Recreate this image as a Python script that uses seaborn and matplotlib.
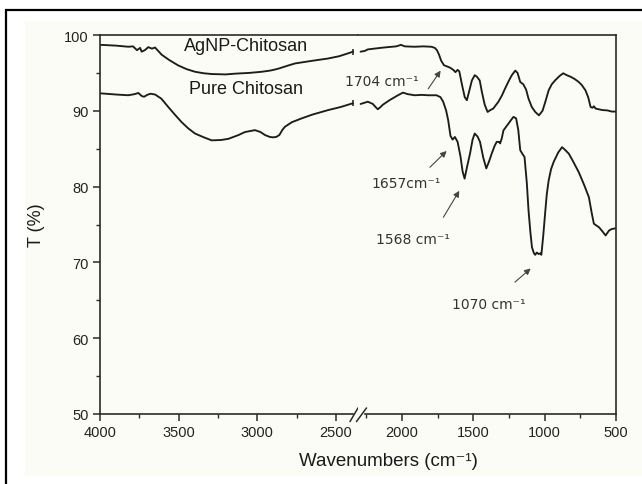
import numpy as np
import pandas as pd
import matplotlib
matplotlib.use("Agg")
import matplotlib.pyplot as plt
import seaborn as sns
from matplotlib.patches import Rectangle
from matplotlib.ticker import MultipleLocator

# FTIR spectra (wavenumber cm-1, transmittance %)
# left part of the broken axis (4000 -> ~2380)
ag_wn_hi = [3995, 3900, 3820, 3790, 3765, 3745, 3735, 3715, 3693, 3670, 3650, 3608, 3560,
            3504, 3450, 3396, 3340, 3290, 3200, 3142, 3050, 2972, 2920, 2887, 2860, 2800,
            2760, 2650, 2550, 2480, 2420, 2392]
ag_t_hi = [98.7, 98.6, 98.45, 98.5, 98.0, 98.3, 97.8, 98.0, 98.4, 98.2, 98.35, 97.4, 96.7,
           96.0, 95.5, 95.15, 94.95, 94.85, 94.8, 94.9, 95.0, 95.15, 95.3, 95.45, 95.6, 96.0,
           96.25, 96.6, 96.9, 97.2, 97.6, 97.8]

pc_wn_hi = [3995, 3900, 3820, 3780, 3756, 3735, 3720, 3700, 3680, 3650, 3610, 3566, 3520,
            3481, 3440, 3396, 3340, 3290, 3230, 3184, 3120, 3078, 3040, 3015, 2980, 2951,
            2920, 2900, 2880, 2860, 2840, 2824, 2780, 2718, 2650, 2549, 2470, 2392]
pc_t_hi = [92.3, 92.15, 92.05, 92.2, 92.35, 91.95, 91.85, 92.1, 92.25, 92.15, 91.6, 90.5, 89.4,
           88.5, 87.7, 87.0, 86.5, 86.1, 86.15, 86.3, 86.8, 87.2, 87.35, 87.45, 87.2, 86.8,
           86.55, 86.5, 86.55, 86.8, 87.5, 87.9, 88.5, 89.0, 89.5, 90.1, 90.5, 91.0]

# right part of the broken axis (~2290 -> 500)
ag_wn_lo = [2290, 2260, 2239, 2150, 2099, 2040, 2007, 1980, 1911, 1850, 1794, 1770, 1755,
            1740, 1725, 1705, 1690, 1664, 1640, 1625, 1610, 1598, 1580, 1560, 1545, 1530,
            1510, 1490, 1475, 1455, 1440, 1420, 1400, 1380, 1360, 1324, 1300, 1277, 1250,
            1230, 1206, 1190, 1171, 1150, 1130, 1113, 1090, 1066, 1040, 1015, 995, 972, 950,
            925, 895, 870, 845, 819, 790, 761, 740, 714, 695, 678, 665, 655, 643, 620, 596,
            560, 530, 502]
ag_t_lo = [97.8, 97.9, 98.1, 98.3, 98.4, 98.5, 98.7, 98.5, 98.45, 98.5, 98.45, 98.3, 98.0,
           97.4, 96.6, 96.0, 95.9, 95.7, 95.4, 95.1, 95.4, 95.2, 93.5, 91.8, 91.4, 92.5,
           94.0, 94.7, 94.5, 94.0, 92.5, 90.8, 89.85, 90.1, 90.3, 91.2, 92.0, 92.95, 94.0,
           94.7, 95.3, 95.0, 93.8, 93.5, 92.8, 91.6, 90.5, 89.85, 89.4, 90.0, 91.2, 92.7, 93.5,
           94.05, 94.6, 94.95, 94.7, 94.5, 94.2, 93.8, 93.4, 92.7, 91.8, 90.5, 90.4, 90.6,
           90.3, 90.2, 90.1, 90.05, 89.9, 89.9]

pc_wn_lo = [2290, 2239, 2204, 2185, 2169, 2150, 2134, 2087, 2028, 1993, 1960, 1911, 1860,
            1817, 1758, 1730, 1711, 1690, 1676, 1660, 1645, 1629, 1610, 1590, 1575, 1561,
            1545, 1523, 1505, 1490, 1470, 1453, 1430, 1409, 1390, 1371, 1350, 1336, 1320,
            1312, 1300, 1289, 1270, 1254, 1235, 1218, 1200, 1185, 1171, 1155, 1141, 1125,
            1113, 1100, 1089, 1075, 1066, 1055, 1042, 1030, 1023, 1010, 995, 985, 972, 955,
            937, 905, 878, 860, 831, 800, 761, 725, 690, 670, 655, 640, 620, 595, 573, 560,
            549, 530, 502]
pc_t_lo = [90.9, 91.2, 90.9, 90.5, 90.2, 90.5, 90.8, 91.4, 92.05, 92.4, 92.2, 92.05, 92.1,
           92.05, 92.05, 91.8, 91.2, 90.0, 88.75, 86.7, 86.2, 86.55, 85.9, 84.0, 82.0, 81.05,
           82.5, 84.35, 86.2, 87.0, 86.6, 85.9, 83.8, 82.4, 83.3, 84.35, 85.4, 85.9, 85.9,
           85.7, 86.4, 87.4, 87.9, 88.3, 88.8, 89.2, 89.0, 87.5, 84.8, 84.3, 83.9, 80.5,
           76.85, 74.0, 72.0, 71.2, 71.0, 71.3, 71.1, 71.2, 71.0, 73.5, 76.85, 79.0, 80.8, 82.3,
           83.25, 84.5, 85.2, 84.9, 84.35, 83.3, 81.9, 80.3, 78.6, 76.5, 75.1, 74.9, 74.65,
           74.1, 73.55, 73.9, 74.2, 74.4, 74.5]

series_names = ["AgNP-Chitosan", "Pure Chitosan"]

# peak annotations: text, text position, arrow tail, arrow head (wn, T)
peak_labels = ["1704 cm\u207b\u00b9", "1657cm\u207b\u00b9", "1568 cm\u207b\u00b9", "1070 cm\u207b\u00b9"]
peak_text_xy = [(2140, 93.9), (1972, 80.5), (1923, 73.1), (1394, 64.5)]
peak_tail_xy = [(1816, 92.9), (1804, 82.55), (1710, 75.95), (1208, 67.4)]
peak_head_xy = [(1729, 95.3), (1687, 84.7), (1598, 79.45), (1098, 69.2)]

sns.set_style("ticks")
plt.rcParams["font.family"] = ["Liberation Sans", "DejaVu Sans"]

W, H = 642, 485
fig = plt.figure(figsize=(W / 100, H / 100), dpi=100, facecolor="white")
bg = "#fcfcf7"
fig.add_artist(Rectangle((25 / W, 1 - 476 / H), 1, (476 - 22) / H,
                         transform=fig.transFigure, color=bg, zorder=-5))
fig.add_artist(Rectangle((6 / W, -0.1), 1.2, 1.1 - 11 / H, transform=fig.transFigure,
                         fill=False, edgecolor="black", lw=1.6, zorder=-4))

bottom = 1 - 415 / H
height = (415 - 36) / H
ax1 = fig.add_axes([100 / W, bottom, 258 / W, height])
ax2 = fig.add_axes([358 / W, bottom, 258 / W, height])

line_kw = dict(color="#1c1c1c", lw=1.35, estimator=None, sort=False, legend=False)
hi = pd.DataFrame({"wn": ag_wn_hi + pc_wn_hi, "T": ag_t_hi + pc_t_hi,
                   "s": [series_names[0]] * len(ag_wn_hi) + [series_names[1]] * len(pc_wn_hi)})
lo = pd.DataFrame({"wn": ag_wn_lo + pc_wn_lo, "T": ag_t_lo + pc_t_lo,
                   "s": [series_names[0]] * len(ag_wn_lo) + [series_names[1]] * len(pc_wn_lo)})
for name in series_names:
    sns.lineplot(data=hi[hi.s == name], x="wn", y="T", ax=ax1, **line_kw)
    sns.lineplot(data=lo[lo.s == name], x="wn", y="T", ax=ax2, **line_kw)

# little end caps where the curves stop at the break
ax1.plot([ag_wn_hi[-1], pc_wn_hi[-1]], [ag_t_hi[-1], pc_t_hi[-1]], ls="none",
         marker="|", ms=5, mew=1.1, color="#1c1c1c")

spine_c = "#2a2a2a"
for ax in (ax1, ax2):
    ax.set_facecolor(bg)
    ax.set_ylim(50, 100)
    ax.set_xlabel("")
    ax.set_ylabel("")
    for s in ax.spines.values():
        s.set_visible(True)
        s.set_color(spine_c)
        s.set_linewidth(1.2)
    ax.tick_params(axis="both", which="major", direction="out", length=5, width=1.1,
                   color=spine_c, labelsize=10.5, labelcolor="#222222", pad=3)
    ax.tick_params(axis="both", which="minor", direction="out", length=3, width=1.0,
                   color=spine_c)
    ax.xaxis.set_major_locator(MultipleLocator(500))
    ax.xaxis.set_minor_locator(MultipleLocator(250))

ax1.set_xlim(4000, 2360)
ax2.set_xlim(2308, 500)
ax1.spines["right"].set_visible(False)
ax2.spines["left"].set_visible(False)
ax1.spines["bottom"].set_bounds(4000, 2392)
ax2.spines["bottom"].set_bounds(2258, 500)
ax1.yaxis.set_major_locator(MultipleLocator(10))
ax1.yaxis.set_minor_locator(MultipleLocator(5))
ax2.tick_params(axis="y", which="both", left=False, labelleft=False)

# break marks on the x axis
bk = dict(color=spine_c, lw=1.1, clip_on=False)
ax1.plot([0.969, 1.0], [-0.020, 0.016], transform=ax1.transAxes, **bk)
ax2.plot([-0.006, 0.033], [-0.020, 0.016], transform=ax2.transAxes, **bk)

# series labels
ax1.text(3072, 98.6, series_names[0], ha="center", va="center", fontsize=13, color="#1a1a1a")
ax1.text(3072, 92.9, series_names[1], ha="center", va="center", fontsize=13, color="#1a1a1a")

for lab, txy, tail, head in zip(peak_labels, peak_text_xy, peak_tail_xy, peak_head_xy):
    ax2.text(txy[0], txy[1], lab, ha="center", va="center", fontsize=10,
             color="#333333", family=["DejaVu Sans"])
    ax2.annotate("", xy=head, xytext=tail,
                 arrowprops=dict(arrowstyle="-|>", color="#444444", lw=0.8,
                                 mutation_scale=9, shrinkA=0, shrinkB=0))

ax1.set_ylabel("T (%)", fontsize=13, labelpad=14, color="#1a1a1a")
fig.text(388 / W, 1 - 462 / H, "Wavenumbers (cm\u207b\u00b9)", ha="center", va="center",
         fontsize=13.5, color="#1a1a1a")

fig.savefig("out.png", dpi=100, facecolor="white")
